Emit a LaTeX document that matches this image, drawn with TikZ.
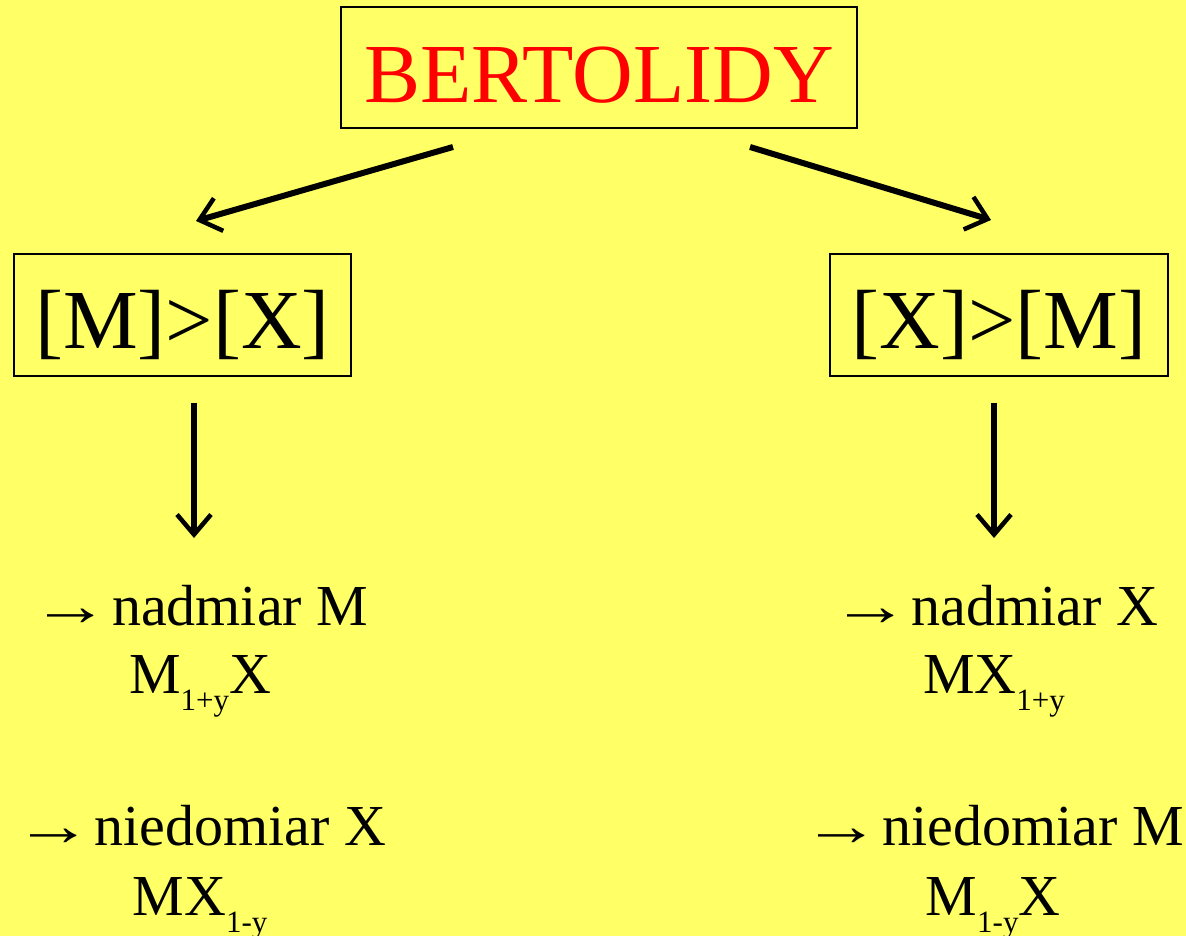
\documentclass[tikz,border=0pt]{standalone}
\usepackage{fontspec}
\usepackage{graphicx}
\setmainfont{Liberation Serif}
\usetikzlibrary{arrows.meta}
\definecolor{bgyellow}{HTML}{FFFF66}
\definecolor{titlered}{HTML}{FF0000}
\newcommand{\sbs}[1]{\raisebox{-17pt}{\fontsize{31}{31}\selectfont #1}}
\newcommand{\rar}{\scalebox{1.35}[1]{→}\hspace{2pt}}
\begin{document}
\begin{tikzpicture}[x=1pt,y=-1pt,
  box/.style={draw, line width=1.6pt, inner sep=0pt, align=center},
  big/.style={font=\fontsize{84}{90}\selectfont},
  txt/.style={anchor=base, inner sep=0pt, font=\fontsize{58}{60}\selectfont},
  arr/.style={line width=6pt, -{Straight Barb[length=20pt,width=34pt,line width=4.5pt]}}]
\fill[bgyellow] (0,0) rectangle (1186,936);
\useasboundingbox (0,0) rectangle (1186,936);

\node[box, big, text=titlered, minimum width=516pt, minimum height=121pt, text height=71pt, text depth=0pt] (top) at (599,67.5) {BERTOLIDY};
\node[box, big, minimum width=337pt, minimum height=122pt, text height=66pt, text depth=0pt] (lbox) at (182.5,315) {[M]>[X]};
\node[box, big, minimum width=338pt, minimum height=122pt, text height=66pt, text depth=0pt] (rbox) at (999,315) {[X]>[M]};

\coordinate (d1s) at (453,147);
\coordinate (d1e) at (196,221);
\coordinate (d2s) at (750,147);
\coordinate (d2e) at (991,220);
\coordinate (v1s) at (194,403);
\coordinate (v1e) at (194,538);
\coordinate (v2s) at (994,403);
\coordinate (v2e) at (994,538);
\draw[arr] (d1s) -- (d1e);
\draw[arr] (d2s) -- (d2e);
\draw[arr] (v1s) -- (v1e);
\draw[arr] (v2s) -- (v2e);

\node[txt] (l1) at (200,625) {\rar nadmiar M};
\node[txt] (l2) at (200,693) {M\sbs{1+y}X};
\node[txt] (l3) at (200,845) {\rar niedomiar X};
\node[txt] (l4) at (200,915) {MX\sbs{1-y}};

\node[txt] (r1) at (995,625) {\rar nadmiar X};
\node[txt] (r2) at (994,693) {MX\sbs{1+y}};
\node[txt] (r3) at (993,845) {\rar niedomiar M};
\node[txt] (r4) at (993,915) {M\sbs{1-y}X};
\end{tikzpicture}
\end{document}
